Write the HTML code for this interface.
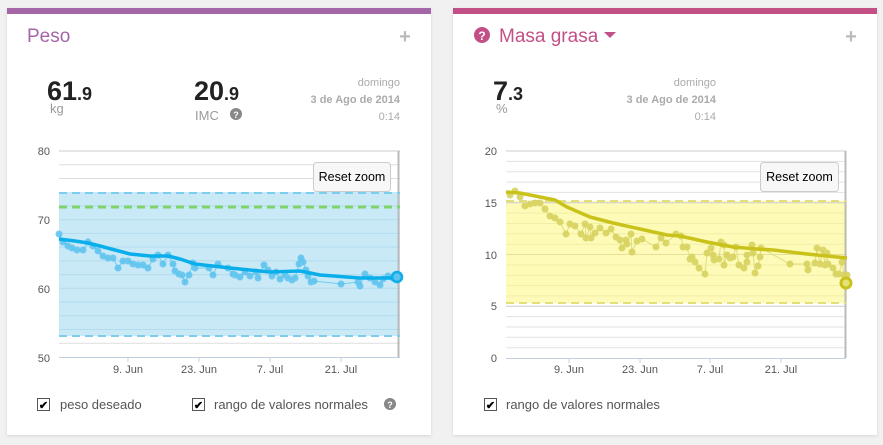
<!DOCTYPE html>
<html><head><meta charset="utf-8"><style>
html,body{margin:0;padding:0;background:#f1f1f1;width:883px;height:445px;overflow:hidden;font-family:"Liberation Sans",sans-serif}
</style></head><body>
<svg width="883" height="445" xmlns="http://www.w3.org/2000/svg" font-family="Liberation Sans, sans-serif">
<defs><filter id="sh" x="-5%" y="-5%" width="110%" height="110%"><feDropShadow dx="0" dy="1" stdDeviation="1.5" flood-color="#000" flood-opacity="0.12"/></filter></defs>
<!-- cards -->
<rect x="7" y="8" width="424" height="427" fill="#fff" filter="url(#sh)"/>
<rect x="7" y="8" width="424" height="6" fill="#a566a8"/>
<rect x="453" y="8" width="424" height="427" fill="#fff" filter="url(#sh)"/>
<rect x="453" y="8" width="424" height="6" fill="#c25086"/>

<!-- LEFT header -->
<text x="27" y="42" font-size="19" fill="#a566a8">Peso</text>
<text x="405" y="43" font-size="20" font-weight="bold" fill="#bbb" text-anchor="middle">+</text>
<text x="47" y="100" font-size="27" font-weight="bold" fill="#222">61<tspan font-size="18">.9</tspan></text>
<text x="50" y="113" font-size="13" fill="#999">kg</text>
<text x="194" y="100" font-size="27" font-weight="bold" fill="#222">20<tspan font-size="18">.9</tspan></text>
<text x="195" y="120" font-size="13" fill="#999">IMC</text>
<circle cx="236" cy="114" r="6" fill="#888"/><text x="236" y="118" font-size="9" font-weight="bold" fill="#fff" text-anchor="middle">?</text>
<g font-size="11" fill="#aaa" text-anchor="end"><text x="400" y="86">domingo</text><text x="400" y="103" font-weight="bold">3 de Ago de 2014</text><text x="400" y="120">0:14</text></g>

<!-- LEFT chart -->
<rect x="59" y="192" width="341" height="144" fill="#c9e9f7"/>
<g stroke="#ddd" stroke-width="1">
<line x1="59" x2="400" y1="164.7" y2="164.7"/><line x1="59" x2="400" y1="178.5" y2="178.5"/>
<line x1="59" x2="400" y1="343.3" y2="343.3"/>
</g>
<g stroke="#b3dbee" stroke-width="1">
<line x1="59" x2="400" y1="205.9" y2="205.9"/><line x1="59" x2="400" y1="233.4" y2="233.4"/><line x1="59" x2="400" y1="247.1" y2="247.1"/><line x1="59" x2="400" y1="260.9" y2="260.9"/><line x1="59" x2="400" y1="274.6" y2="274.6"/><line x1="59" x2="400" y1="302.1" y2="302.1"/><line x1="59" x2="400" y1="315.8" y2="315.8"/><line x1="59" x2="400" y1="329.5" y2="329.5"/>
<line x1="59" x2="400" y1="219.7" y2="219.7"/><line x1="59" x2="400" y1="288.3" y2="288.3"/>
</g>
<line x1="59" x2="400" y1="151" y2="151" stroke="#ccc"/>
<line x1="59" x2="400" y1="357.5" y2="357.5" stroke="#c0d0e0"/>
<line x1="398.5" x2="398.5" y1="151" y2="357" stroke="#bbb" stroke-width="2"/>
<line x1="59" x2="400" y1="193" y2="193" stroke="#7fcdee" stroke-width="2" stroke-dasharray="8,5"/>
<line x1="59" x2="400" y1="336" y2="336" stroke="#7fcdee" stroke-width="2" stroke-dasharray="8,5"/>
<line x1="59" x2="400" y1="207" y2="207" stroke="#7ed36a" stroke-width="3" stroke-dasharray="8,5"/>
<g font-size="11" fill="#555" text-anchor="end"><text x="50" y="155">80</text><text x="50" y="224">70</text><text x="50" y="293">60</text><text x="50" y="362">50</text></g>
<g stroke="#c0d0e0"><line x1="128" x2="128" y1="357" y2="362"/><line x1="199" x2="199" y1="357" y2="362"/><line x1="270" x2="270" y1="357" y2="362"/><line x1="341" x2="341" y1="357" y2="362"/></g>
<g font-size="11" fill="#555" text-anchor="middle"><text x="128" y="373">9. Jun</text><text x="199" y="373">23. Jun</text><text x="270" y="373">7. Jul</text><text x="341" y="373">21. Jul</text></g>
<polyline fill="none" stroke="#6fcdf2" stroke-width="1" points="59,234 63,242 68,246 72,248 77,250 83,250 88,242 93,246 98,251 103,256 108,258 113,258 118,268 123,261 128,261 133,264 138,265 143,265 148,268 153,259 158,255 163,264 168,255 173,264 175,271 179,274 182,275 185,282 189,275 193,263 195,268 209,268 213,275 218,264 228,268 233,274 235,275 240,277 245,272 250,276 256,272 258,278 264,265 268,270 272,276 276,272 280,279 285,275 288,278 292,280 295,278 299,264 301,258 303,262 306,270 308,276 311,282 314,281 341,284 358,282 360,286 365,274 370,278 375,282 380,285 383,279 388,276 393,278 398,278"/>
<g fill="#5cc3ee" opacity="0.85">
<circle cx="59" cy="234" r="3.5"/><circle cx="63" cy="242" r="3.5"/><circle cx="68" cy="246" r="3.5"/><circle cx="72" cy="248" r="3.5"/><circle cx="77" cy="250" r="3.5"/><circle cx="83" cy="250" r="3.5"/><circle cx="88" cy="242" r="3.5"/><circle cx="93" cy="246" r="3.5"/><circle cx="98" cy="251" r="3.5"/><circle cx="103" cy="256" r="3.5"/><circle cx="108" cy="258" r="3.5"/><circle cx="113" cy="258" r="3.5"/><circle cx="118" cy="268" r="3.5"/><circle cx="123" cy="261" r="3.5"/><circle cx="128" cy="261" r="3.5"/><circle cx="133" cy="264" r="3.5"/><circle cx="138" cy="265" r="3.5"/><circle cx="143" cy="265" r="3.5"/><circle cx="148" cy="268" r="3.5"/><circle cx="153" cy="259" r="3.5"/><circle cx="158" cy="255" r="3.5"/><circle cx="163" cy="264" r="3.5"/><circle cx="168" cy="255" r="3.5"/><circle cx="173" cy="264" r="3.5"/><circle cx="175" cy="271" r="3.5"/><circle cx="179" cy="274" r="3.5"/><circle cx="182" cy="275" r="3.5"/><circle cx="185" cy="282" r="3.5"/><circle cx="189" cy="275" r="3.5"/><circle cx="193" cy="263" r="3.5"/><circle cx="195" cy="268" r="3.5"/><circle cx="209" cy="268" r="3.5"/><circle cx="213" cy="275" r="3.5"/><circle cx="218" cy="264" r="3.5"/><circle cx="228" cy="268" r="3.5"/><circle cx="233" cy="274" r="3.5"/><circle cx="235" cy="275" r="3.5"/><circle cx="240" cy="277" r="3.5"/><circle cx="245" cy="272" r="3.5"/><circle cx="250" cy="276" r="3.5"/><circle cx="256" cy="272" r="3.5"/><circle cx="258" cy="278" r="3.5"/><circle cx="264" cy="265" r="3.5"/><circle cx="268" cy="270" r="3.5"/><circle cx="272" cy="276" r="3.5"/><circle cx="276" cy="272" r="3.5"/><circle cx="280" cy="279" r="3.5"/><circle cx="285" cy="275" r="3.5"/><circle cx="288" cy="278" r="3.5"/><circle cx="292" cy="280" r="3.5"/><circle cx="295" cy="278" r="3.5"/><circle cx="299" cy="264" r="3.5"/><circle cx="301" cy="258" r="3.5"/><circle cx="303" cy="262" r="3.5"/><circle cx="306" cy="270" r="3.5"/><circle cx="308" cy="276" r="3.5"/><circle cx="311" cy="282" r="3.5"/><circle cx="314" cy="281" r="3.5"/><circle cx="341" cy="284" r="3.5"/><circle cx="358" cy="282" r="3.5"/><circle cx="360" cy="286" r="3.5"/><circle cx="365" cy="274" r="3.5"/><circle cx="370" cy="278" r="3.5"/><circle cx="375" cy="282" r="3.5"/><circle cx="380" cy="285" r="3.5"/><circle cx="383" cy="279" r="3.5"/><circle cx="388" cy="276" r="3.5"/><circle cx="393" cy="278" r="3.5"/>
</g>
<polyline fill="none" stroke="#0aaeea" stroke-width="3.5" stroke-linejoin="round" points="59,239 75,241 88,243 100,246 115,250 130,254 150,256 168,256 180,259 195,264 230,268 270,272 300,271 320,275 360,278 397,278"/>
<circle cx="397" cy="277" r="5" fill="#5cc3ee" stroke="#0aaeea" stroke-width="2.5"/>
<rect x="313.5" y="162.5" width="77" height="29" rx="3" fill="#f7f7f7" stroke="#ccc"/>
<text x="352" y="181" font-size="12.5" fill="#000" text-anchor="middle">Reset zoom</text>

<!-- LEFT legend -->
<rect x="37.5" y="398.5" width="12" height="12" fill="#fff" stroke="#555"/><text x="43.5" y="409" font-size="11" font-weight="bold" text-anchor="middle" fill="#000">✔</text>
<text x="60" y="409" font-size="13" fill="#555">peso deseado</text>
<rect x="192.5" y="398.5" width="12" height="12" fill="#fff" stroke="#555"/><text x="198.5" y="409" font-size="11" font-weight="bold" text-anchor="middle" fill="#000">✔</text>
<text x="214" y="409" font-size="13" fill="#555">rango de valores normales</text>
<circle cx="390" cy="404" r="6" fill="#888"/><text x="390" y="408" font-size="9" font-weight="bold" fill="#fff" text-anchor="middle">?</text>

<!-- RIGHT header -->
<circle cx="482" cy="35" r="8" fill="#c25086"/><text x="482" y="40" font-size="12" font-weight="bold" fill="#fff" text-anchor="middle">?</text>
<text x="499" y="42" font-size="19" fill="#c25086">Masa grasa</text>
<polygon points="604,32 616,32 610,38" fill="#c25086"/>
<text x="851" y="43" font-size="20" font-weight="bold" fill="#bbb" text-anchor="middle">+</text>
<text x="493" y="100" font-size="27" font-weight="bold" fill="#222">7<tspan font-size="18">.3</tspan></text>
<text x="496" y="113" font-size="13" fill="#999">%</text>
<g font-size="11" fill="#aaa" text-anchor="end"><text x="716" y="86">domingo</text><text x="716" y="103" font-weight="bold">3 de Ago de 2014</text><text x="716" y="120">0:14</text></g>

<!-- RIGHT chart -->
<rect x="506" y="201" width="341" height="102" fill="#fdfbb7"/>
<g stroke="#e2e2e2" stroke-width="1">
<line x1="506" x2="846" y1="161.4" y2="161.4"/><line x1="506" x2="846" y1="171.7" y2="171.7"/><line x1="506" x2="846" y1="182.1" y2="182.1"/><line x1="506" x2="846" y1="192.4" y2="192.4"/>
<line x1="506" x2="846" y1="316.6" y2="316.6"/><line x1="506" x2="846" y1="327" y2="327"/><line x1="506" x2="846" y1="337.3" y2="337.3"/><line x1="506" x2="846" y1="347.7" y2="347.7"/>
</g>
<g stroke="#f1eea6" stroke-width="1">
<line x1="506" x2="846" y1="213.1" y2="213.1"/><line x1="506" x2="846" y1="223.5" y2="223.5"/><line x1="506" x2="846" y1="233.8" y2="233.8"/><line x1="506" x2="846" y1="244.2" y2="244.2"/><line x1="506" x2="846" y1="264.9" y2="264.9"/><line x1="506" x2="846" y1="275.2" y2="275.2"/><line x1="506" x2="846" y1="285.6" y2="285.6"/><line x1="506" x2="846" y1="295.9" y2="295.9"/>
</g>
<g stroke="#ccc"><line x1="506" x2="846" y1="151" y2="151"/><line x1="506" x2="846" y1="202.8" y2="202.8"/><line x1="506" x2="846" y1="254.5" y2="254.5" stroke="#e5e19a"/><line x1="506" x2="846" y1="306.3" y2="306.3"/></g>
<line x1="506" x2="846" y1="358.5" y2="358.5" stroke="#c0d0e0"/>
<line x1="845.5" x2="845.5" y1="151" y2="358" stroke="#bbb" stroke-width="2"/>
<line x1="506" x2="846" y1="201" y2="201" stroke="#e3de7a" stroke-width="2" stroke-dasharray="8,5"/>
<line x1="506" x2="846" y1="303" y2="303" stroke="#e3de7a" stroke-width="2" stroke-dasharray="8,5"/>
<g font-size="11" fill="#555" text-anchor="end"><text x="497" y="155">20</text><text x="497" y="207">15</text><text x="497" y="259">10</text><text x="497" y="310">5</text><text x="497" y="362">0</text></g>
<g stroke="#c0d0e0"><line x1="569" x2="569" y1="358" y2="363"/><line x1="640" x2="640" y1="358" y2="363"/><line x1="710" x2="710" y1="358" y2="363"/><line x1="781" x2="781" y1="358" y2="363"/></g>
<g font-size="11" fill="#555" text-anchor="middle"><text x="569" y="373">9. Jun</text><text x="640" y="373">23. Jun</text><text x="710" y="373">7. Jul</text><text x="781" y="373">21. Jul</text></g>
<polyline fill="none" stroke="#e0dc80" stroke-width="1" points="506,192 510,195 515,191 520,197 525,206 530,204 535,203 540,203 545,209 550,216 555,218 560,222 566,234 570,224 575,226 581,234 585,224 586,238 590,227 591,238 595,233 600,228 606,233 611,229 616,237 620,240 622,248 626,240 627,244 631,234 632,252 637,241 642,239 656,247 661,238 666,243 676,234 681,236 683,247 687,247 690,259 692,257 695,262 699,268 705,274 707,253 711,248 713,255 714,260 719,259 721,242 724,245 724,265 727,255 730,258 733,257 736,247 739,265 744,268 747,255 747,262 752,245 753,253 755,273 758,266 760,257 761,248 790,264 807,264 808,270 815,263 817,248 820,264 823,250 825,265 827,253 828,264 833,268 836,274 839,274 842,262 844,275 847,275"/>
<g fill="#d8d360" opacity="0.9">
<circle cx="510" cy="195" r="3.5"/><circle cx="515" cy="191" r="3.5"/><circle cx="520" cy="197" r="3.5"/><circle cx="525" cy="206" r="3.5"/><circle cx="530" cy="204" r="3.5"/><circle cx="535" cy="203" r="3.5"/><circle cx="540" cy="203" r="3.5"/><circle cx="545" cy="209" r="3.5"/><circle cx="550" cy="216" r="3.5"/><circle cx="555" cy="218" r="3.5"/><circle cx="560" cy="222" r="3.5"/><circle cx="566" cy="234" r="3.5"/><circle cx="570" cy="224" r="3.5"/><circle cx="575" cy="226" r="3.5"/><circle cx="581" cy="234" r="3.5"/><circle cx="585" cy="224" r="3.5"/><circle cx="586" cy="238" r="3.5"/><circle cx="590" cy="227" r="3.5"/><circle cx="591" cy="238" r="3.5"/><circle cx="595" cy="233" r="3.5"/><circle cx="600" cy="228" r="3.5"/><circle cx="606" cy="233" r="3.5"/><circle cx="611" cy="229" r="3.5"/><circle cx="616" cy="237" r="3.5"/><circle cx="620" cy="240" r="3.5"/><circle cx="622" cy="248" r="3.5"/><circle cx="626" cy="240" r="3.5"/><circle cx="627" cy="244" r="3.5"/><circle cx="631" cy="234" r="3.5"/><circle cx="632" cy="252" r="3.5"/><circle cx="637" cy="241" r="3.5"/><circle cx="642" cy="239" r="3.5"/><circle cx="656" cy="247" r="3.5"/><circle cx="661" cy="238" r="3.5"/><circle cx="666" cy="243" r="3.5"/><circle cx="676" cy="234" r="3.5"/><circle cx="681" cy="236" r="3.5"/><circle cx="683" cy="247" r="3.5"/><circle cx="687" cy="247" r="3.5"/><circle cx="690" cy="259" r="3.5"/><circle cx="692" cy="257" r="3.5"/><circle cx="695" cy="262" r="3.5"/><circle cx="699" cy="268" r="3.5"/><circle cx="705" cy="274" r="3.5"/><circle cx="707" cy="253" r="3.5"/><circle cx="711" cy="248" r="3.5"/><circle cx="713" cy="255" r="3.5"/><circle cx="714" cy="260" r="3.5"/><circle cx="719" cy="259" r="3.5"/><circle cx="721" cy="242" r="3.5"/><circle cx="724" cy="245" r="3.5"/><circle cx="724" cy="265" r="3.5"/><circle cx="727" cy="255" r="3.5"/><circle cx="730" cy="258" r="3.5"/><circle cx="733" cy="257" r="3.5"/><circle cx="736" cy="247" r="3.5"/><circle cx="739" cy="265" r="3.5"/><circle cx="744" cy="268" r="3.5"/><circle cx="747" cy="255" r="3.5"/><circle cx="747" cy="262" r="3.5"/><circle cx="752" cy="245" r="3.5"/><circle cx="753" cy="253" r="3.5"/><circle cx="755" cy="273" r="3.5"/><circle cx="758" cy="266" r="3.5"/><circle cx="760" cy="257" r="3.5"/><circle cx="761" cy="248" r="3.5"/><circle cx="790" cy="264" r="3.5"/><circle cx="807" cy="264" r="3.5"/><circle cx="808" cy="270" r="3.5"/><circle cx="815" cy="263" r="3.5"/><circle cx="817" cy="248" r="3.5"/><circle cx="820" cy="264" r="3.5"/><circle cx="823" cy="250" r="3.5"/><circle cx="825" cy="265" r="3.5"/><circle cx="827" cy="253" r="3.5"/><circle cx="828" cy="264" r="3.5"/><circle cx="833" cy="268" r="3.5"/><circle cx="836" cy="274" r="3.5"/><circle cx="839" cy="274" r="3.5"/><circle cx="842" cy="262" r="3.5"/><circle cx="844" cy="275" r="3.5"/><circle cx="847" cy="275" r="3.5"/>
</g>
<polyline fill="none" stroke="#c9c21a" stroke-width="3.5" stroke-linejoin="round" points="506,192 520,193 540,197 555,200 567,207 590,217 613,223 640,229 667,235 680,236 707,242 733,247 757,249 773,250 807,254 847,258"/>
<circle cx="846" cy="283" r="5" fill="#e6e17a" stroke="#c9c21a" stroke-width="3"/>
<rect x="760.5" y="162.5" width="78" height="29" rx="3" fill="#f7f7f7" stroke="#ccc"/>
<text x="799.5" y="181" font-size="12.5" fill="#000" text-anchor="middle">Reset zoom</text>

<!-- RIGHT legend -->
<rect x="484.5" y="398.5" width="12" height="12" fill="#fff" stroke="#555"/><text x="490.5" y="409" font-size="11" font-weight="bold" text-anchor="middle" fill="#000">✔</text>
<text x="506" y="409" font-size="13" fill="#555">rango de valores normales</text>
</svg>
</body></html>
